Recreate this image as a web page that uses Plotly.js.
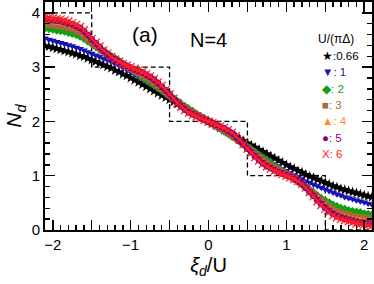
<!DOCTYPE html>
<html>
<head>
<meta charset="utf-8">
<script src="https://cdn.plot.ly/plotly-3.0.1.min.js"></script>
<style>html,body{margin:0;padding:0;background:#fff;}#chart{width:374px;height:284px;}</style>
</head>
<body>
<div id="chart"></div>
<script>
// ---- data ----
const xi = [-2.15,-2.10,-2.05,-2.00,-1.95,-1.90,-1.85,-1.80,-1.75,-1.70,-1.65,-1.60,-1.55,-1.50,-1.45,-1.40,-1.35,-1.30,-1.25,-1.20,-1.15,-1.10,-1.05,-1.00,-0.95,-0.90,-0.85,-0.80,-0.75,-0.70,-0.65,-0.60,-0.55,-0.50,-0.45,-0.40,-0.35,-0.30,-0.25,-0.20,-0.15,-0.10,-0.05,0.00,0.05,0.10,0.15,0.20,0.25,0.30,0.35,0.40,0.45,0.50,0.55,0.60,0.65,0.70,0.75,0.80,0.85,0.90,0.95,1.00,1.05,1.10,1.15,1.20,1.25,1.30,1.35,1.40,1.45,1.50,1.55,1.60,1.65,1.70,1.75,1.80,1.85,1.90,1.95,2.00,2.05,2.10,2.15];

const nU066 = [3.41,3.39,3.38,3.36,3.34,3.32,3.30,3.28,3.26,3.24,3.21,3.19,3.16,3.13,3.10,3.07,3.04,3.01,2.98,2.94,2.91,2.87,2.84,2.80,2.76,2.72,2.68,2.64,2.60,2.56,2.52,2.48,2.44,2.40,2.36,2.32,2.28,2.24,2.20,2.16,2.12,2.08,2.04,2.00,1.96,1.92,1.88,1.84,1.80,1.76,1.72,1.68,1.64,1.60,1.56,1.52,1.48,1.44,1.40,1.36,1.32,1.28,1.24,1.20,1.16,1.13,1.09,1.06,1.02,0.99,0.96,0.93,0.90,0.87,0.84,0.81,0.79,0.76,0.74,0.72,0.70,0.68,0.66,0.64,0.62,0.61,0.59];

const nU1 = [3.55,3.53,3.51,3.49,3.47,3.45,3.43,3.41,3.39,3.36,3.34,3.31,3.28,3.25,3.22,3.19,3.16,3.13,3.10,3.06,3.03,2.99,2.95,2.91,2.87,2.82,2.78,2.73,2.69,2.64,2.60,2.55,2.51,2.46,2.41,2.37,2.32,2.28,2.23,2.18,2.14,2.09,2.05,2.00,1.95,1.91,1.86,1.82,1.77,1.72,1.68,1.63,1.59,1.54,1.49,1.45,1.40,1.36,1.31,1.27,1.22,1.18,1.13,1.09,1.05,1.01,0.97,0.94,0.90,0.87,0.84,0.81,0.78,0.75,0.72,0.69,0.66,0.64,0.61,0.59,0.57,0.55,0.53,0.51,0.49,0.47,0.45];

const nU2 = [3.73,3.72,3.71,3.70,3.68,3.67,3.66,3.64,3.62,3.60,3.57,3.53,3.48,3.43,3.38,3.33,3.28,3.24,3.20,3.16,3.11,3.06,3.01,2.97,2.92,2.87,2.82,2.77,2.72,2.67,2.62,2.57,2.52,2.47,2.42,2.37,2.32,2.27,2.22,2.18,2.13,2.09,2.04,2.00,1.96,1.91,1.87,1.82,1.78,1.73,1.68,1.63,1.58,1.53,1.48,1.43,1.38,1.33,1.28,1.23,1.18,1.13,1.08,1.03,0.99,0.94,0.89,0.84,0.79,0.74,0.69,0.63,0.58,0.54,0.50,0.46,0.43,0.40,0.38,0.36,0.34,0.33,0.32,0.30,0.29,0.28,0.27];

const nU3 = [3.80,3.79,3.78,3.77,3.76,3.75,3.74,3.72,3.70,3.67,3.63,3.58,3.52,3.46,3.40,3.35,3.29,3.24,3.19,3.15,3.10,3.05,3.01,2.97,2.93,2.89,2.85,2.81,2.76,2.71,2.66,2.60,2.54,2.48,2.42,2.36,2.30,2.25,2.20,2.16,2.12,2.08,2.04,2.00,1.96,1.92,1.88,1.84,1.80,1.75,1.70,1.64,1.58,1.52,1.46,1.40,1.34,1.29,1.24,1.19,1.15,1.11,1.07,1.03,0.99,0.95,0.90,0.85,0.79,0.73,0.67,0.61,0.55,0.49,0.44,0.39,0.35,0.32,0.30,0.28,0.26,0.25,0.24,0.23,0.22,0.21,0.20];

const nU4 = [3.85,3.85,3.84,3.83,3.82,3.81,3.80,3.78,3.76,3.73,3.69,3.64,3.57,3.50,3.43,3.37,3.30,3.24,3.18,3.14,3.10,3.06,3.02,2.98,2.95,2.92,2.88,2.84,2.80,2.75,2.69,2.63,2.56,2.49,2.42,2.35,2.29,2.23,2.18,2.14,2.10,2.07,2.03,2.00,1.97,1.93,1.90,1.86,1.82,1.77,1.71,1.65,1.58,1.51,1.44,1.37,1.31,1.25,1.20,1.16,1.12,1.08,1.05,1.02,0.98,0.94,0.90,0.85,0.78,0.71,0.64,0.57,0.50,0.44,0.38,0.33,0.29,0.26,0.24,0.22,0.20,0.19,0.18,0.17,0.16,0.15,0.15];

const nU5 = [3.89,3.89,3.88,3.87,3.86,3.85,3.83,3.81,3.79,3.76,3.72,3.66,3.59,3.51,3.44,3.37,3.30,3.24,3.18,3.14,3.10,3.06,3.02,2.99,2.96,2.93,2.90,2.86,2.82,2.77,2.71,2.64,2.57,2.50,2.42,2.35,2.28,2.22,2.17,2.13,2.10,2.06,2.03,2.00,1.97,1.94,1.90,1.87,1.83,1.78,1.72,1.65,1.58,1.50,1.43,1.36,1.29,1.23,1.18,1.14,1.10,1.07,1.04,1.01,0.98,0.94,0.90,0.85,0.78,0.70,0.63,0.55,0.48,0.41,0.35,0.30,0.26,0.23,0.21,0.19,0.17,0.15,0.14,0.13,0.12,0.11,0.11];

const nU6 = [3.93,3.92,3.91,3.90,3.89,3.88,3.86,3.84,3.81,3.78,3.74,3.68,3.60,3.52,3.45,3.38,3.31,3.25,3.19,3.14,3.10,3.06,3.03,3.00,2.97,2.94,2.91,2.87,2.83,2.78,2.72,2.66,2.58,2.50,2.42,2.34,2.27,2.21,2.16,2.12,2.09,2.06,2.03,2.00,1.97,1.94,1.91,1.88,1.84,1.79,1.73,1.66,1.58,1.50,1.42,1.34,1.28,1.22,1.17,1.13,1.09,1.06,1.03,1.00,0.97,0.94,0.90,0.85,0.78,0.70,0.62,0.53,0.46,0.39,0.33,0.27,0.23,0.20,0.18,0.16,0.14,0.12,0.11,0.10,0.09,0.08,0.07];

// atomic-limit staircase (N=4)
const stepX = [-2.1,-1.5,-0.5,0.5,1.5,2.1];
const stepY = [4,3,2,1,0,0];

const seriesNames = ["0.66","1","2","3","4","5","6"];
const seriesY = [nU066,nU1,nU2,nU3,nU4,nU5,nU6];
const legendGlyphs = ["\u2605:0.66","\u25BC: 1","\u25C6: 2","\u25A0: 3","\u25B2: 4","\u25CF: 5","X: 6"];

const xTickVals = [-2,-1,0,1,2];
const xTickText = ["\u22122","\u22121","0","1","2"];
const yTickVals = [0,1,2,3,4];
const yTickText = ["0","1","2","3","4"];

// ---- styles ----
const colors = ["#000000","#1414b4","#12a012","#a8683a","#ff8a1a","#800080","#ff2020"];
const symbols = ["star","triangle-down","diamond","square","triangle-up","circle","x-thin-open"];
const sizes = [8,7,7,6,7,7,8];

const traces = [{
  x: stepX, y: stepY, mode: "lines", line: {shape: "hv", color: "#000", width: 1.3, dash: "5px,3px"},
  hoverinfo: "skip", showlegend: false
}];
seriesY.forEach((ys, i) => {
  const isX = symbols[i] === "x-thin-open";
  traces.push({
    x: xi, y: ys, name: seriesNames[i], mode: "lines+markers",
    line: {color: colors[i], width: 2},
    marker: {symbol: symbols[i], size: sizes[i], color: colors[i],
             line: {color: colors[i], width: isX ? 1.2 : 0}},
    showlegend: false
  });
});
// empty trace so the fine-tick overlay axis is drawn
traces.push({x: [], y: [], xaxis: "x2", yaxis: "y", mode: "markers", showlegend: false, hoverinfo: "skip"});

const fontFam = "Liberation Sans, Arial, sans-serif";
const annotations = [
  {text: "(a)", x: 145, y: 34, font: {size: 21}},
  {text: "N=4", x: 208, y: 40, font: {size: 20}},
  {text: "U/(\u03C0\u0394)", x: 316, y: 39, xanchor: "left", font: {size: 12}}
];
const legendY = [56, 72, 89, 105, 121, 138, 154];
legendGlyphs.forEach((t, i) => {
  annotations.push({text: t, x: 320, y: legendY[i], xanchor: "left", font: {size: 11.5, color: colors[i]}});
});
annotations.forEach(a => {
  a.xref = "paper"; a.yref = "paper"; a.showarrow = false;
  if (!a.xanchor) a.xanchor = "center";
  a.yanchor = "middle";
  a.font = Object.assign({family: fontFam, color: "#000"}, a.font);
  // convert pixel position to paper coords
  a.x = (a.x - 45) / 327;
  a.y = (230 - a.y) / 228;
});

const layout = {
  width: 374, height: 284,
  margin: {l: 45, r: 2, t: 2, b: 54},
  paper_bgcolor: "#fff", plot_bgcolor: "#fff",
  font: {family: fontFam, color: "#000"},
  showlegend: false,
  xaxis: {
    range: [-2.1, 2.1], tickmode: "array", tickvals: xTickVals, ticktext: xTickText,
    ticks: "inside", ticklen: 10, tickwidth: 1.5, tickcolor: "#000",
    showline: true, linecolor: "#000", linewidth: 2, mirror: "ticks",
    showgrid: false, zeroline: false,
    tickfont: {size: 15, family: fontFam},
    minor: {dtick: 0.5, tick0: 0, ticks: "inside", ticklen: 10, tickwidth: 1.5, tickcolor: "#000", showgrid: false},
    title: {text: "<i>\u03BE</i><sub><i>d</i></sub>/U", font: {size: 20, family: fontFam}, standoff: 6}
  },
  xaxis2: {
    overlaying: "x", anchor: "y", side: "bottom", range: [-2.1, 2.1],
    dtick: 0.1, tick0: 0, ticks: "inside", ticklen: 5, tickwidth: 1.3, tickcolor: "#000",
    showticklabels: false, showline: false, mirror: "ticks", showgrid: false, zeroline: false
  },
  yaxis: {
    range: [0, 4.2], tickmode: "array", tickvals: yTickVals, ticktext: yTickText,
    ticks: "inside", ticklen: 10, tickwidth: 1.5, tickcolor: "#000",
    showline: true, linecolor: "#000", linewidth: 2, mirror: "ticks",
    showgrid: false, zeroline: false,
    tickfont: {size: 15, family: fontFam},
    minor: {dtick: 0.2, tick0: 0, ticks: "inside", ticklen: 5, tickwidth: 1.3, tickcolor: "#000", showgrid: false},
    title: {text: "<i>N</i><sub><i>d</i></sub>", font: {size: 21, family: fontFam}, standoff: 4}
  },
  annotations: annotations
};

Plotly.newPlot("chart", traces, layout, {staticPlot: true, displayModeBar: false});
</script>
</body>
</html>
